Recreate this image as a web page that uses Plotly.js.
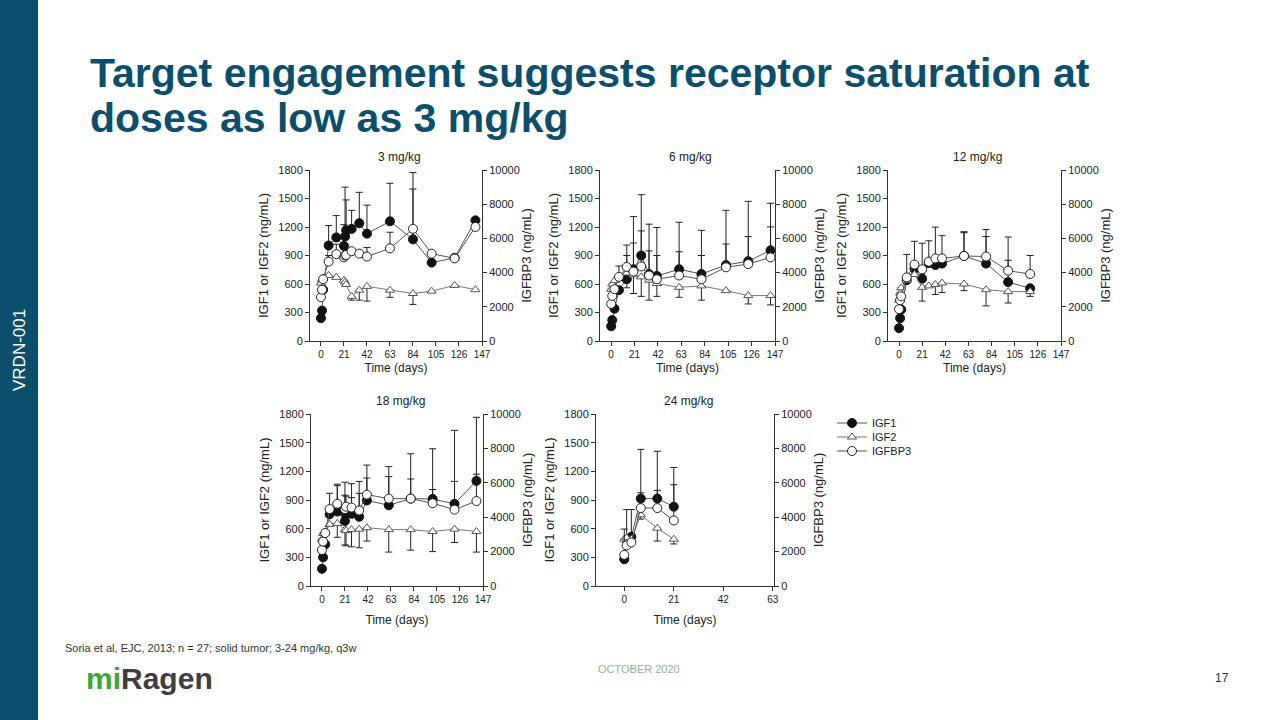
<!DOCTYPE html>
<html>
<head>
<meta charset="utf-8">
<script src="https://cdn.plot.ly/plotly-3.0.1.min.js"></script>
<style>
html,body{margin:0;padding:0;background:#fff;}
#chart{width:1280px;height:720px;}
</style>
</head>
<body>
<div id="chart"></div>
<script>
// ---------- DATA ----------
const panelTitles = ["3 mg/kg", "6 mg/kg", "12 mg/kg", "18 mg/kg", "24 mg/kg"];
const seriesNames = ["IGF1", "IGF2", "IGFBP3"];
const xTicks = [0, 21, 42, 63, 84, 105, 126, 147];
const xTicks24 = [0, 21, 42, 63];
const leftTicks = [0, 300, 600, 900, 1200, 1500, 1800];
const rightTicks = [0, 2000, 4000, 6000, 8000, 10000];

// 3 mg/kg
const days3 = [0, 1, 2, 7, 14, 21, 22, 23, 28, 35, 42, 63, 84, 101, 122, 141];
const igf1_3 = [240, 320, 540, 1005, 1090, 1000, 1100, 1165, 1180, 1240, 1130, 1260, 1070, 825, 875, 1270];
const igf2_3 = [610, 650, 665, 690, 670, 640, 620, 595, 470, 535, 575, 535, 500, 525, 585, 540];
const igfbp3_3 = [2560, 3000, 3610, 4640, 5080, 4890, 5000, 5030, 5250, 5110, 4940, 5420, 6560, 5110, 4830, 6670];
const igf1Err_3 = [0, 0, 0, 210, 230, 225, 520, 320, 195, 325, 300, 400, 530, 0, 0, 0];
const igf2ErrLo_3 = [0, 0, 0, 0, 0, 0, 0, 0, 40, 105, 155, 75, 115, 0, 0, 0];
const igfbp3Err_3 = [0, 0, 0, 360, 580, 830, 0, 0, 0, 0, 530, 940, 3290, 0, 0, 0];

// 6 mg/kg
const days6 = [0, 1, 3, 7, 14, 20, 27, 34, 41, 61, 81, 103, 123, 143];
const igf1_6 = [155, 220, 340, 535, 650, 755, 900, 705, 685, 755, 705, 800, 840, 955];
const igf2_6 = [545, 600, 635, 685, 715, 695, 675, 640, 605, 565, 580, 530, 478, 478];
const igfbp3_6 = [2170, 2640, 3030, 3750, 4330, 4060, 4360, 3830, 3610, 3830, 3610, 4310, 4500, 4890];
const igf1Err_6 = [0, 0, 0, 0, 360, 555, 640, 525, 510, 495, 460, 575, 630, 495];
const igf2ErrLo_6 = [0, 0, 0, 0, 155, 195, 205, 210, 135, 105, 150, 0, 88, 98];
const igfbp3Err_6 = [0, 0, 0, 640, 670, 1670, 2080, 1440, 1390, 1390, 1390, 1360, 1610, 1780];

// 12 mg/kg
const days12 = [0, 1, 2, 7, 14, 21, 27, 33, 39, 59, 79, 99, 119];
const igf1_12 = [135, 240, 330, 640, 760, 655, 820, 800, 815, 895, 815, 620, 555];
const igf2_12 = [430, 505, 560, 640, 700, 565, 580, 595, 610, 600, 540, 520, 520];
const igfbp3_12 = [1860, 2390, 2610, 3720, 4470, 4190, 4640, 4830, 4830, 4970, 4940, 4110, 3920];
const igf1Err_12 = [0, 0, 0, 270, 0, 375, 0, 0, 0, 245, 285, 230, 0];
const igf2ErrLo_12 = [0, 0, 0, 0, 0, 145, 0, 105, 100, 70, 170, 120, 50];
const igfbp3Err_12 = [0, 0, 0, 0, 1360, 0, 1220, 1830, 1330, 1420, 1580, 1970, 1080];

// 18 mg/kg
const days18 = [0, 1, 3, 7, 14, 21, 22, 27, 34, 41, 61, 81, 101, 121, 141];
const igf1_18 = [180, 300, 435, 750, 780, 680, 750, 755, 725, 895, 845, 915, 910, 860, 1100];
const igf2_18 = [490, 550, 565, 645, 655, 590, 580, 590, 595, 610, 590, 590, 570, 595, 570];
const igfbp3_18 = [2090, 2580, 3080, 4470, 4780, 4470, 4610, 4560, 4390, 5310, 5080, 5080, 4810, 4440, 4940];
const igf1Err_18 = [0, 0, 0, 0, 270, 270, 190, 170, 245, 235, 300, 205, 100, 235, 665];
const igf2ErrLo_18 = [0, 0, 0, 0, 145, 160, 160, 180, 195, 140, 235, 215, 210, 140, 215];
const igfbp3Err_18 = [0, 0, 0, 920, 1140, 1560, 0, 1390, 1690, 1720, 1860, 2610, 3170, 4610, 1560];

// 24 mg/kg
const days24 = [0, 1, 3, 7, 14, 21];
const igf1_24 = [280, 480, 515, 915, 915, 830];
const igf2_24 = [490, 505, 490, 745, 605, 490];
const igfbp3_24 = [1810, 2360, 2530, 4530, 4530, 3810];
const igf1Err_24 = [0, 320, 285, 515, 495, 410];
const igf2ErrLo_24 = [0, 0, 0, 45, 135, 50];
const igfbp3Err_24 = [1500, 0, 0, 890, 1030, 2080];

// ---------- LAYOUT GEOMETRY ----------
const W = 1280, H = 720;
const px = v => v / W;
const py = v => (H - v) / H;

const panels = [
  {days: days3, igf1: igf1_3, igf2: igf2_3, bp3: igfbp3_3, e1: igf1Err_3, e2: igf2ErrLo_3, e3: igfbp3Err_3,
   dom: [310, 482], top: 170, bot: 341, range: [-10, 147], ticks: xTicks, xstand: 4},
  {days: days6, igf1: igf1_6, igf2: igf2_6, bp3: igfbp3_6, e1: igf1Err_6, e2: igf2ErrLo_6, e3: igfbp3Err_6,
   dom: [600, 775], top: 170, bot: 341, range: [-10, 147], ticks: xTicks, xstand: 4},
  {days: days12, igf1: igf1_12, igf2: igf2_12, bp3: igfbp3_12, e1: igf1Err_12, e2: igf2ErrLo_12, e3: igfbp3Err_12,
   dom: [888, 1061], top: 170, bot: 341, range: [-10, 147], ticks: xTicks, xstand: 4},
  {days: days18, igf1: igf1_18, igf2: igf2_18, bp3: igfbp3_18, e1: igf1Err_18, e2: igf2ErrLo_18, e3: igfbp3Err_18,
   dom: [311, 483], top: 414, bot: 586, range: [-10, 147], ticks: xTicks, xstand: 11},
  {days: days24, igf1: igf1_24, igf2: igf2_24, bp3: igfbp3_24, e1: igf1Err_24, e2: igf2ErrLo_24, e3: igfbp3Err_24,
   dom: [596, 774], top: 414, bot: 586, range: [-12, 63.5], ticks: xTicks24, xstand: 11}
];

const FONT = "Liberation Sans, Arial, Helvetica, sans-serif";
const INK = "#222";
const LINE = "#555";
const TEAL = "#0b4f6c";
const errStyle = {color: "#222", thickness: 1, width: 3.5};

const traces = [];
const legendBox = y => ({x: px(832), y: py(y), xanchor: "left", yanchor: "middle",
  font: {family: FONT, size: 11, color: INK}, bgcolor: "rgba(0,0,0,0)", itemwidth: 30,
  borderwidth: 0});
const layout = {
  width: W, height: H,
  margin: {l: 0, r: 0, t: 0, b: 0},
  paper_bgcolor: "#fff", plot_bgcolor: "rgba(0,0,0,0)",
  font: {family: FONT, color: INK, size: 11},
  showlegend: true,
  legend: legendBox(423),
  legend2: legendBox(437),
  legend3: legendBox(451),
  annotations: [], shapes: []
};
const legendIds = ["legend", "legend2", "legend3"];

panels.forEach((p, i) => {
  const n = i + 1;
  const xa = n === 1 ? "x" : "x" + n;
  const yl = 2 * n - 1 === 1 ? "y" : "y" + (2 * n - 1);
  const yr = "y" + (2 * n);
  const first = i === 0;

  traces.push({
    x: p.days, y: p.igf1, xaxis: xa, yaxis: yl, name: seriesNames[0], legend: legendIds[0],
    showlegend: first, mode: "lines+markers", type: "scatter", cliponaxis: false,
    line: {color: LINE, width: 1},
    marker: {symbol: "circle", size: 9, color: "#111", line: {color: "#111", width: 1}},
    error_y: Object.assign({type: "data", symmetric: false, array: p.e1, arrayminus: p.e1.map(() => 0)}, errStyle)
  });
  traces.push({
    x: p.days, y: p.igf2, xaxis: xa, yaxis: yl, name: seriesNames[1], legend: legendIds[1],
    showlegend: first, mode: "lines+markers", type: "scatter", cliponaxis: false,
    line: {color: "#777", width: 1},
    marker: {symbol: "triangle-up", size: 8, color: "#fff", line: {color: "#555", width: 1}},
    error_y: Object.assign({type: "data", symmetric: false, array: p.e2.map(() => 0), arrayminus: p.e2}, errStyle)
  });
  traces.push({
    x: p.days, y: p.bp3, xaxis: xa, yaxis: yr, name: seriesNames[2], legend: legendIds[2],
    showlegend: first, mode: "lines+markers", type: "scatter", cliponaxis: false,
    line: {color: LINE, width: 1},
    marker: {symbol: "circle", size: 9, color: "#fff", line: {color: "#222", width: 1}},
    error_y: Object.assign({type: "data", symmetric: false, array: p.e3, arrayminus: p.e3.map(() => 0)}, errStyle)
  });

  const axBase = {
    showgrid: false, zeroline: false, showline: true, linecolor: "#333", linewidth: 1,
    ticks: "outside", ticklen: 4, tickwidth: 1, tickcolor: "#333",
    tickfont: {family: FONT, size: 11, color: INK}, fixedrange: true
  };
  layout["xaxis" + (n === 1 ? "" : n)] = Object.assign({}, axBase, {
    domain: [px(p.dom[0]), px(p.dom[1])], anchor: yl, range: p.range,
    tickmode: "array", tickvals: p.ticks, ticktext: p.ticks.map(String),
    tickfont: {family: FONT, size: 10, color: INK},
    title: {text: "Time (days)", font: {family: FONT, size: 12, color: INK}, standoff: p.xstand}
  });
  layout["yaxis" + (2 * n - 1 === 1 ? "" : (2 * n - 1))] = Object.assign({}, axBase, {
    domain: [py(p.bot), py(p.top)], anchor: xa, range: [0, 1800],
    tickmode: "array", tickvals: leftTicks, ticktext: leftTicks.map(String),
    title: {text: "IGF1 or IGF2 (ng/mL)", font: {family: FONT, size: 13, color: INK}, standoff: 6}
  });
  layout["yaxis" + (2 * n)] = Object.assign({}, axBase, {
    overlaying: yl, side: "right", anchor: xa, range: [0, 10000],
    tickmode: "array", tickvals: rightTicks, ticktext: rightTicks.map(String),
    title: {text: "IGFBP3 (ng/mL)", font: {family: FONT, size: 13, color: INK}, standoff: 3}
  });
  layout.annotations.push({
    text: panelTitles[i], xref: "paper", yref: "paper",
    x: px((p.dom[0] + p.dom[1]) / 2 + 3), y: py(p.top - 4), xanchor: "center", yanchor: "bottom",
    showarrow: false, font: {family: FONT, size: 12, color: INK}
  });
});

// slide decorations
layout.shapes.push({type: "rect", xref: "paper", yref: "paper", x0: 0, x1: px(38), y0: 0, y1: 1,
  fillcolor: TEAL, line: {width: 0}, layer: "below"});
layout.annotations.push(
  {text: "VRDN-001", xref: "paper", yref: "paper", x: px(19), y: py(350), textangle: -90,
   showarrow: false, font: {family: FONT, size: 17, color: "#fff"}, xanchor: "center", yanchor: "middle"},
  {text: "<b>Target engagement suggests receptor saturation at</b>",
   xref: "paper", yref: "paper", x: px(88), y: py(73), xanchor: "left", yanchor: "middle", align: "left",
   showarrow: false, font: {family: FONT, size: 41, color: TEAL}},
  {text: "<b>doses as low as 3 mg/kg</b>",
   xref: "paper", yref: "paper", x: px(88), y: py(118), xanchor: "left", yanchor: "middle", align: "left",
   showarrow: false, font: {family: FONT, size: 41, color: TEAL}},
  {text: "Soria et al, EJC, 2013; n = 27; solid tumor; 3-24 mg/kg, q3w", xref: "paper", yref: "paper",
   x: px(63), y: py(648), xanchor: "left", yanchor: "middle", showarrow: false,
   font: {family: FONT, size: 11, color: "#333"}},
  {text: "<b><span style='color:#3aa935'>mi</span>Ragen</b>", xref: "paper", yref: "paper",
   x: px(84), y: py(678), xanchor: "left", yanchor: "middle", showarrow: false,
   font: {family: FONT, size: 30, color: "#3d3d42"}},
  {text: "OCTOBER 2020", xref: "paper", yref: "paper", x: px(639), y: py(669), xanchor: "center",
   yanchor: "middle", showarrow: false, font: {family: FONT, size: 11, color: "#8fb48f"}},
  {text: "17", xref: "paper", yref: "paper", x: px(1222), y: py(678), xanchor: "center",
   yanchor: "middle", showarrow: false, font: {family: FONT, size: 12, color: "#333"}}
);

Plotly.newPlot("chart", traces, layout, {staticPlot: true, displayModeBar: false});
</script>
</body>
</html>
